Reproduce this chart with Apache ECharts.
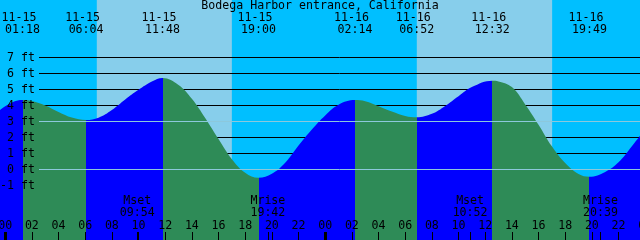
<!DOCTYPE html>
<html><head><meta charset="utf-8">
<script src="https://cdn.jsdelivr.net/npm/echarts@6/dist/echarts.min.js"></script>
<style>html,body{margin:0;padding:0;background:#00BFFF}#c{width:640px;height:240px}</style>
</head><body><div id="c"></div>
<script>
// ---------- data (hours from 11-15 00:00, heights in ft) ----------
const chartTitle = 'Bodega Harbor entrance, California';
const tideHours = [-1, 0, 1.3, 2, 3, 4, 5, 6.0667, 7, 8, 9, 10, 11, 11.8, 13, 14, 15, 16, 17, 18, 19, 20, 21, 22, 23, 24, 25, 26.2333, 27, 28, 29, 30, 30.8667, 32, 33, 34, 35, 36.5333, 37, 38, 39, 40, 41, 42, 43, 43.8167, 45, 46, 47, 48];
const tideFeet  = [3.2, 3.96, 4.35, 4.28, 4.0, 3.6, 3.25, 3.1, 3.24, 3.72, 4.38, 4.98, 5.5, 5.72, 5.28, 4.42, 3.22, 1.9, 0.64, -0.2, -0.52, -0.27, 0.42, 1.5, 2.5, 3.38, 4.05, 4.34, 4.27, 3.96, 3.62, 3.34, 3.26, 3.48, 3.97, 4.58, 5.15, 5.55, 5.5, 5.15, 4.07, 2.8, 1.45, 0.4, -0.28, -0.45, -0.15, 0.45, 1.45, 2.55];
const eventHours = [1.3, 6.0667, 11.8, 19.0, 26.2333, 30.8667, 36.5333, 43.8167];
const eventDates = ['11-15', '11-15', '11-15', '11-15', '11-16', '11-16', '11-16', '11-16'];
const eventClock = ['01:18', '06:04', '11:48', '19:00', '02:14', '06:52', '12:32', '19:49'];
const eventKind  = ['high', 'low', 'high', 'low', 'high', 'low', 'high', 'low'];
const sunriseHours = [6.87, 30.87];
const sunsetHours  = [17.0, 41.02];
const moonHours = [9.9, 19.7, 34.8667, 44.65];
const moonNames = ['Mset', 'Mrise', 'Mset', 'Mrise'];
const moonClock = ['09:54', '19:42', '10:52', '20:39'];
const midnightHours = [0, 24, 48];
const ftLevels = [-1, 0, 1, 2, 3, 4, 5, 6, 7];
const markLevels = [0, 3];

// ---------- styles ----------
const C = { nightSky: '#00BFFF', daySky: '#87CEEB', flood: '#0000FF', ebb: '#2E8B57', mark: '#8CC8DC', ink: '#000000' };
const font = { fontFamily: 'DejaVu Sans Mono', fontSize: 11.6, color: C.ink, lineHeight: 12 };
const yMin = -4.406, yMax = 10.594;
const gridMain = { left: -21.467, right: -31.867, top: 0, bottom: 0, outerBoundsMode: 'none' };

function idxOf(arr, v) { let b = 0; arr.forEach((a, i) => { if (Math.abs(a - v) < Math.abs(arr[b] - v)) b = i; }); return b; }

const pieces = [];
eventHours.forEach((h, i) => {
  const col = eventKind[i] === 'high' ? C.flood : C.ebb;
  if (i === 0) pieces.push({ lt: h, color: col });
  else pieces.push({ gte: eventHours[i - 1], lt: h, color: col });
});
pieces.push({ gte: eventHours[eventHours.length - 1], color: eventKind[eventKind.length - 1] === 'low' ? C.flood : C.ebb });

const baseX = { gridIndex: 0, type: 'value', min: -2, max: 50, axisLine: { show: false, onZero: false }, splitLine: { show: false } };

const option = {
  animation: false,
  backgroundColor: C.nightSky,
  title: { text: chartTitle, left: 'center', top: 0, padding: 0, textStyle: Object.assign({}, font, { fontWeight: 'normal' }) },
  grid: [gridMain, { left: 39, right: 0, top: 0, bottom: 0, outerBoundsMode: 'none' }],
  xAxis: [
    Object.assign({}, baseX, { position: 'bottom', interval: 2, z: 6,
      axisTick: { inside: true, length: 8, lineStyle: { color: C.ink, width: 1 } },
      axisLabel: Object.assign({ inside: true, margin: 8, formatter: v => String(((v % 24) + 24) % 24).padStart(2, '0') }, font) }),
    Object.assign({}, baseX, { position: 'bottom', z: 6,
      axisTick: { inside: true, length: 8, customValues: midnightHours, lineStyle: { color: C.ink, width: 3 } },
      axisLabel: { show: false } }),
    Object.assign({}, baseX, { position: 'bottom', z: 6,
      axisTick: { inside: true, length: 8, customValues: moonHours, lineStyle: { color: C.ink, width: 1 } },
      axisLabel: Object.assign({ inside: true, margin: 21, customValues: moonHours,
        formatter: v => { const i = idxOf(moonHours, v); return moonNames[i] + '\n' + moonClock[i]; } }, font) }),
    Object.assign({}, baseX, { position: 'top', z: 6,
      axisTick: { show: false },
      axisLabel: Object.assign({ inside: true, margin: 12, customValues: eventHours,
        formatter: v => { const i = idxOf(eventHours, v); return eventDates[i] + ' \n' + eventClock[i]; } }, font) }),
    { gridIndex: 1, type: 'value', min: 0, max: 1, show: false, axisLine: { onZero: false } }
  ],
  yAxis: [
    { gridIndex: 0, type: 'value', min: yMin, max: yMax, show: false, splitLine: { show: false } },
    { gridIndex: 1, type: 'value', min: yMin, max: yMax, z: 6,
      axisLine: { show: false }, axisTick: { show: false }, splitLine: { show: false },
      axisLabel: Object.assign({ customValues: ftLevels, margin: 4, formatter: v => v + ' ft' }, font) }
  ],
  visualMap: { type: 'piecewise', show: false, dimension: 0, seriesIndex: 2, pieces: pieces },
  series: [
    { name: 'sky', type: 'line', xAxisIndex: 0, yAxisIndex: 0, data: [], z: 1, silent: true,
      markArea: { silent: true, z: 1, itemStyle: { color: C.daySky },
        data: sunriseHours.map((s, i) => [{ xAxis: s }, { xAxis: sunsetHours[i] }]) } },
    { name: 'grid', type: 'line', xAxisIndex: 4, yAxisIndex: 1, data: [], z: 2, silent: true,
      markLine: { silent: true, z: 2, symbol: ['none', 'none'], label: { show: false },
        lineStyle: { color: C.ink, width: 1, type: 'solid' },
        data: ftLevels.map(v => ({ yAxis: v })) } },
    { name: 'tide', type: 'line', xAxisIndex: 0, yAxisIndex: 0, z: 3, silent: true,
      data: tideHours.map((h, i) => [h, tideFeet[i]]),
      smooth: 0.4, symbol: 'none', lineStyle: { width: 0 }, areaStyle: { opacity: 1, origin: 'start' } },
    { name: 'marks', type: 'line', xAxisIndex: 4, yAxisIndex: 1, data: [], z: 4, silent: true,
      markLine: { silent: true, z: 5, symbol: ['none', 'none'], label: { show: false },
        lineStyle: { color: C.mark, width: 1, type: 'solid' },
        data: markLevels.map(v => ({ yAxis: v })) } }
  ]
};
const chart = echarts.init(document.getElementById('c'), null, { renderer: 'canvas' });
chart.setOption(option);
</script></body></html>
